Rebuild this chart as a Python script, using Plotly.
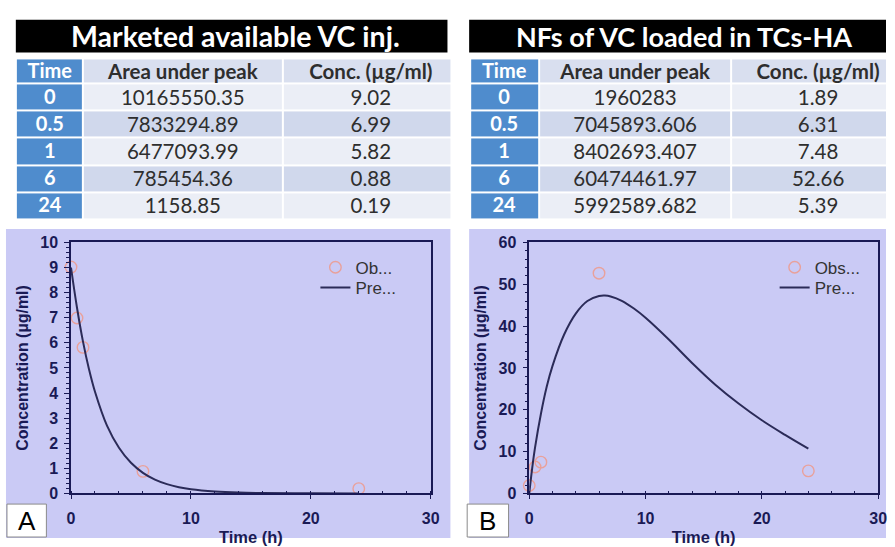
import plotly.graph_objects as go

# ---- data -------------------------------------------------------------
time_h = [0, 0.5, 1, 6, 24]

area_vc = ["10165550.35", "7833294.89", "6477093.99", "785454.36", "1158.85"]
conc_vc = [9.02, 6.99, 5.82, 0.88, 0.19]

area_nf = ["1960283", "7045893.606", "8402693.407", "60474461.97", "5992589.682"]
conc_nf = [1.89, 6.31, 7.48, 52.66, 5.39]

# model-predicted profiles
pred_t_vc = [0, 0.5, 1, 1.5, 2, 3, 4, 5, 6, 7, 8, 9, 10, 12, 14, 16, 20, 24]
pred_c_vc = [9.0, 7.4, 6.05, 4.95, 4.05, 2.7, 1.82, 1.22, 0.82, 0.55, 0.37,
             0.25, 0.17, 0.08, 0.035, 0.015, 0.003, 0.0]

pred_t_nf = [0, 0.25, 0.5, 1, 1.5, 2, 3, 4, 5, 6, 6.5, 7, 8, 9, 10, 12, 14,
             16, 18, 20, 22, 24]
pred_c_nf = [0, 6, 11, 19, 25.5, 30.5, 38, 43, 46, 47.2, 47.3, 47.1, 46,
             44.2, 42, 36.8, 31.2, 26, 21.5, 17.5, 14, 10.7]

table_header = ["Time", "Area under peak", "Conc. (µg/ml)"]
title_vc = "Marketed available VC inj."
title_nf = "NFs of VC loaded in TCs-HA"

# ---- styling ----------------------------------------------------------
W, H = 895, 547
BLUE = "#4F8CCD"
HDR = "#D9DFEF"
LAV_ROW = "#D0D8EC"
LIGHT_ROW = "#EBEEF6"
PANEL = "#CACAF5"
NAVY = "#1A1A55"
TXT = "#2E2E2E"
OBS = "#E9A19B"
LINE = "#2B2B58"
TABLE_FONT = "Lato"
PLOT_FONT = "Liberation Sans"

# table grid (row heights: header then five data rows)
ROW_EDGES = [0, 26, 54, 82, 110, 138, 166]
# fill index per row of the value columns: header, light, lavender, ...
ROW_KIND = [1, 2, 3, 2, 3, 2]
CELL_SCALE = [[0, BLUE], [1 / 3, HDR], [2 / 3, LIGHT_ROW], [1, LAV_ROW]]


def px(x):
    return x / W


def py(y):
    return 1 - y / H


fig = go.Figure()


# ---- tables (drawn as heatmap cells on hidden axes) -------------------
def add_table(xa, ya, widths, areas, concs):
    e0, e1 = 0, widths[0]
    e2, e3 = e1 + widths[1], e1 + widths[1] + widths[2]
    # Time column: blue cells, white bold text
    fig.add_trace(go.Heatmap(
        x=[e0, e1], y=ROW_EDGES,
        z=[[0]] * 6,
        text=[[f"<b>{table_header[0]}</b>"]] + [[f"<b>{t:g}</b>"] for t in time_h],
        texttemplate="%{text}",
        textfont=dict(family=TABLE_FONT, size=20, color="white"),
        colorscale=CELL_SCALE, zmin=0, zmax=3, showscale=False,
        xgap=2, ygap=2, hoverinfo="skip", xaxis=xa, yaxis=ya,
    ))
    # value columns
    text = [[f"<b>{table_header[1]}</b>", f"<b>{table_header[2]}</b>"]]
    text += [[a, f"{c:.2f}"] for a, c in zip(areas, concs)]
    fig.add_trace(go.Heatmap(
        x=[e1, e2, e3], y=ROW_EDGES,
        z=[[k, k] for k in ROW_KIND],
        text=text, texttemplate="%{text}",
        textfont=dict(family=TABLE_FONT, size=20.5, color=TXT),
        colorscale=CELL_SCALE, zmin=0, zmax=3, showscale=False,
        xgap=2, ygap=2, hoverinfo="skip", xaxis=xa, yaxis=ya,
    ))


# the last column runs on past the visible edge of each table
add_table("x3", "y3", [68, 203, 178], area_vc, conc_vc)
add_table("x4", "y4", [70, 195, 176], area_nf, conc_nf)

# ---- concentration-time plots ----------------------------------------
fig.add_trace(go.Scatter(
    x=time_h, y=conc_vc, mode="markers", name="Ob...",
    marker=dict(symbol="circle-open", size=11.5, color=OBS,
                line=dict(width=1.4)),
    cliponaxis=False, xaxis="x", yaxis="y", legend="legend",
))
fig.add_trace(go.Scatter(
    x=pred_t_vc, y=pred_c_vc, mode="lines", name="Pre...",
    line=dict(color=LINE, width=2, shape="spline"),
    xaxis="x", yaxis="y", legend="legend2",
))
fig.add_trace(go.Scatter(
    x=time_h, y=conc_nf, mode="markers", name="Obs...",
    marker=dict(symbol="circle-open", size=11.5, color=OBS,
                line=dict(width=1.4)),
    cliponaxis=False, xaxis="x2", yaxis="y2", legend="legend3",
))
fig.add_trace(go.Scatter(
    x=pred_t_nf, y=pred_c_nf, mode="lines", name="Pre...",
    line=dict(color=LINE, width=2, shape="spline"),
    xaxis="x2", yaxis="y2", legend="legend4",
))

tick_font = dict(family=PLOT_FONT, size=16, color=NAVY, weight="bold")


def xaxis_cfg(x0, x1, anchor):
    return dict(
        domain=[px(x0), px(x1)], anchor=anchor, range=[0, 30], dtick=10,
        showgrid=False, zeroline=False, showline=True, mirror=True,
        linecolor=NAVY, linewidth=1.5, ticks="outside", ticklen=4,
        tickcolor=NAVY, tickfont=tick_font, ticklabelstandoff=6,
        minor=dict(dtick=2, ticks="inside", ticklen=3, tickcolor=NAVY),
        title=dict(text="Time (h)", font=dict(family=PLOT_FONT, size=16.5,
                                              color=NAVY, weight="bold"),
                   standoff=5),
        fixedrange=True,
    )


def yaxis_cfg(top, dtick, minor, anchor):
    return dict(
        domain=[py(501), py(242)], anchor=anchor, range=[0, top], dtick=dtick,
        showgrid=False, zeroline=False, showline=True, mirror=True,
        linecolor=NAVY, linewidth=1.5, ticks="outside", ticklen=5,
        tickcolor=NAVY, tickfont=tick_font, ticklabelstandoff=3,
        minor=dict(dtick=minor, ticks="outside", ticklen=3, tickcolor=NAVY),
        title=dict(text="Concentration (µg/ml)",
                   font=dict(family=PLOT_FONT, size=16, color=NAVY,
                             weight="bold"),
                   standoff=8),
        fixedrange=True,
    )


def hidden_axis(**kw):
    return dict(visible=False, showgrid=False, zeroline=False,
                fixedrange=True, **kw)


def legend_cfg(x, y):
    return dict(
        x=px(x), y=py(y), xanchor="left", yanchor="middle",
        bgcolor="rgba(0,0,0,0)", borderwidth=0,
        font=dict(family=PLOT_FONT, size=17, color="#333333"),
        itemwidth=30,
    )


# lavender panels behind each plot, the black table titles, panel tags
shapes = [
    dict(type="rect", xref="paper", yref="paper", x0=px(2), x1=px(453),
         y0=py(547), y1=py(228), fillcolor=PANEL, line=dict(width=0),
         layer="below"),
    dict(type="rect", xref="paper", yref="paper", x0=px(472), x1=px(895),
         y0=py(547), y1=py(228), fillcolor=PANEL, line=dict(width=0),
         layer="below"),
    dict(type="rect", xref="paper", yref="paper", x0=px(12), x1=px(450),
         y0=py(46), y1=py(12), fillcolor="black", line=dict(width=0)),
    dict(type="rect", xref="paper", yref="paper", x0=px(472), x1=px(895),
         y0=py(46), y1=py(12), fillcolor="black", line=dict(width=0)),
    dict(type="rect", xref="paper", yref="paper", x0=px(3), x1=px(43),
         y0=py(546), y1=py(512), fillcolor="white",
         line=dict(color="#8A8A8A", width=1)),
    dict(type="rect", xref="paper", yref="paper", x0=px(470), x1=px(512),
         y0=py(546), y1=py(512), fillcolor="white",
         line=dict(color="#8A8A8A", width=1)),
]

annotations = [
    dict(text=f"<b>{title_vc}</b>", x=px(235), y=py(29), xref="paper",
         yref="paper", showarrow=False, xanchor="center", yanchor="middle",
         font=dict(family=TABLE_FONT, size=28.5, color="white")),
    dict(text=f"<b>{title_nf}</b>", x=px(690), y=py(29), xref="paper",
         yref="paper", showarrow=False, xanchor="center", yanchor="middle",
         font=dict(family=TABLE_FONT, size=27, color="white")),
    dict(text="A", x=px(23), y=py(529), xref="paper", yref="paper",
         showarrow=False, xanchor="center", yanchor="middle",
         font=dict(family=PLOT_FONT, size=26, color="black")),
    dict(text="B", x=px(491), y=py(529), xref="paper", yref="paper",
         showarrow=False, xanchor="center", yanchor="middle",
         font=dict(family=PLOT_FONT, size=26, color="black")),
]

fig.update_layout(
    width=W, height=H,
    margin=dict(l=0, r=0, t=0, b=0),
    paper_bgcolor="white", plot_bgcolor="white",
    showlegend=True,
    xaxis=xaxis_cfg(68, 433, "y"),
    yaxis=yaxis_cfg(10, 1, 0.2, "x"),
    xaxis2=xaxis_cfg(533, 887, "y2"),
    yaxis2=yaxis_cfg(60, 10, 2, "x2"),
    xaxis3=hidden_axis(domain=[px(12), px(453)], range=[0, 441], anchor="y3"),
    yaxis3=hidden_axis(domain=[py(218), py(52)], range=[ROW_EDGES[-1], 0],
                       anchor="x3"),
    xaxis4=hidden_axis(domain=[px(473), px(895)], range=[0, 422], anchor="y4"),
    yaxis4=hidden_axis(domain=[py(218), py(52)], range=[ROW_EDGES[-1], 0],
                       anchor="x4"),
    legend=legend_cfg(316, 268),
    legend2=legend_cfg(316, 289),
    legend3=legend_cfg(782, 268),
    legend4=legend_cfg(782, 289),
    shapes=shapes,
    annotations=annotations,
)

fig.write_html("out.html")
